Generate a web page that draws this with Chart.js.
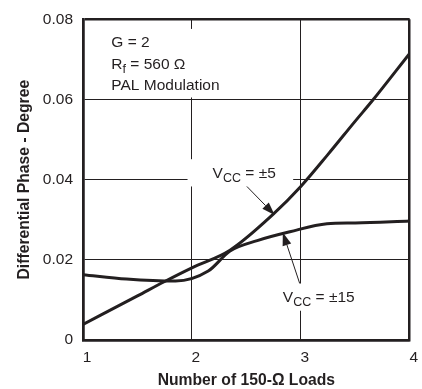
<!DOCTYPE html>
<html>
<head>
<meta charset="utf-8">
<script src="https://cdn.jsdelivr.net/npm/chart.js@4/dist/chart.umd.min.js"></script>
<style>
  html, body { margin: 0; padding: 0; background: #fff; }
  #wrap { width: 422px; height: 389px; }
</style>
</head>
<body>
<div id="wrap"><canvas id="myChart"></canvas></div>
<script>
// data
const loads5 = [1, 1.5, 1.75, 2, 2.35, 2.74, 3, 3.25, 3.5, 3.66, 4];
const phase5 = [0.0039, 0.011, 0.0146, 0.018, 0.0224, 0.0312, 0.0383, 0.0463, 0.0546, 0.0598, 0.0715];
const loads15 = [1, 1.4, 1.85, 2.15, 2.35, 2.6, 2.9, 3.24, 3.5, 4];
const phase15 = [0.0163, 0.0152, 0.0147, 0.0172, 0.0222, 0.0248, 0.027, 0.029, 0.0292, 0.0297];
const xTicks = [1, 2, 3, 4];
const yTicks = [0, 0.02, 0.04, 0.06, 0.08];

const ink = '#231f20';
const font = "'Liberation Sans', Arial, sans-serif";

function pts(xs, ys) {
  return xs.map((x, i) => ({ x: x, y: ys[i] }));
}

// text, boxes and arrows placed in data units
const notes = {
  box: [1.03, 0.0776, 2.35, 0.0605],
  lines: [['G = 2', '', 1.26, 0.0730], ['R', 'f', 1.26, 0.0675, ' = 560 \u03a9'], ['PAL Modulation', '', 1.26, 0.0624]],
  v5: { box: [1.96, 0.0451, 2.93, 0.0383], x: 2.19, y: 0.0405, tail: [2.505, 0.0383], tip: [2.76, 0.0312], text: ' = \u00b15' },
  v15: { box: [2.76, 0.0141, 3.6, 0.0073], x: 2.835, y: 0.0096, tail: [2.99, 0.0141], tip: [2.835, 0.0268], text: ' = \u00b115' }
};

function subText(c, main, sub, rest, px, py) {
  c.font = '15.5px ' + font;
  c.fillText(main, px, py);
  let w = c.measureText(main).width;
  if (sub) {
    c.font = '12.5px ' + font;
    c.fillText(sub, px + w, py + 4);
    w += c.measureText(sub).width;
  }
  if (rest) {
    c.font = '15.5px ' + font;
    c.fillText(rest, px + w, py);
  }
}

function arrow(c, x0, y0, x1, y1) {
  const a = Math.atan2(y1 - y0, x1 - x0);
  const len = 13, half = 4.5;
  c.beginPath();
  c.moveTo(x0, y0);
  c.lineTo(x1 - len * Math.cos(a), y1 - len * Math.sin(a));
  c.lineWidth = 1;
  c.stroke();
  c.beginPath();
  c.moveTo(x1, y1);
  c.lineTo(x1 - len * Math.cos(a) + half * Math.sin(a), y1 - len * Math.sin(a) - half * Math.cos(a));
  c.lineTo(x1 - len * Math.cos(a) - half * Math.sin(a), y1 - len * Math.sin(a) + half * Math.cos(a));
  c.closePath();
  c.fill();
}

const notePlugin = {
  id: 'notes',
  beforeDatasetsDraw(chart) {
    const c = chart.ctx, X = chart.scales.x, Y = chart.scales.y;
    const px = v => X.getPixelForValue(v), py = v => Y.getPixelForValue(v);
    c.save();
    c.fillStyle = '#fff';
    [notes.box, notes.v5.box, notes.v15.box].forEach(b => {
      c.fillRect(px(b[0]), py(b[1]), px(b[2]) - px(b[0]), py(b[3]) - py(b[1]));
    });
    c.fillStyle = ink;
    c.textBaseline = 'alphabetic';
    c.textAlign = 'left';
    notes.lines.forEach(l => subText(c, l[0], l[1], l[4], px(l[2]), py(l[3])));
    [notes.v5, notes.v15].forEach(n => subText(c, 'V', 'CC', n.text, px(n.x), py(n.y)));
    c.restore();
  },
  afterDatasetsDraw(chart) {
    const c = chart.ctx, X = chart.scales.x, Y = chart.scales.y;
    c.save();
    c.fillStyle = ink;
    c.strokeStyle = ink;
    [notes.v5, notes.v15].forEach(n => {
      arrow(c, X.getPixelForValue(n.tail[0]), Y.getPixelForValue(n.tail[1]),
        X.getPixelForValue(n.tip[0]), Y.getPixelForValue(n.tip[1]));
    });
    c.restore();
  }
};

const edge = (v, a, b) => Math.abs(v - a) < 1e-9 || Math.abs(v - b) < 1e-9;

const config = {
  type: 'line',
  data: {
    datasets: [{
      label: 'VCC = ±5',
      data: pts(loads5, phase5),
      borderColor: ink,
      borderWidth: 3,
      pointRadius: 0,
      cubicInterpolationMode: 'monotone'
    }, {
      label: 'VCC = ±15',
      data: pts(loads15, phase15),
      borderColor: ink,
      borderWidth: 3,
      pointRadius: 0,
      cubicInterpolationMode: 'monotone'
    }]
  },
  options: {
    responsive: true,
    maintainAspectRatio: false,
    animation: false,
    layout: { padding: { top: 13, right: 12, left: 0, bottom: 0 } },
    plugins: { legend: { display: false }, tooltip: { enabled: false } },
    scales: {
      x: {
        type: 'linear',
        min: 1, max: 4,
        afterBuildTicks: s => { s.ticks = xTicks.map(v => ({ value: v })); },
        afterFit: s => { s.height = 49; },
        ticks: { color: ink, font: { family: font, size: 15.5 }, padding: 8, labelOffset: 4, maxRotation: 0 },
        grid: {
          color: ink,
          lineWidth: c => edge(c.tick.value, 1, 4) ? 2.5 : 1,
          drawTicks: false
        },
        border: { color: ink, width: 2.5 },
        title: { display: true, text: 'Number of 150-\u03a9 Loads', color: ink, font: { family: font, size: 15.7, weight: 'bold', lineHeight: 1 }, padding: { top: 4, bottom: 0 } }
      },
      y: {
        min: 0, max: 0.08,
        afterBuildTicks: s => { s.ticks = yTicks.map(v => ({ value: v })); },
        afterFit: s => { s.width = 83; },
        ticks: { color: ink, font: { family: font, size: 15.5 }, padding: 10, callback: v => v === 0 ? '0' : v.toFixed(2) },
        grid: {
          color: ink,
          lineWidth: c => edge(c.tick.value, 0, 0.08) ? 2.5 : 1,
          drawTicks: false
        },
        border: { color: ink, width: 2.5 },
        title: { display: true, text: 'Differential Phase - Degree', color: ink, font: { family: font, size: 15.7, weight: 'bold' }, padding: { top: 15, bottom: 0 } }
      }
    }
  },
  plugins: [notePlugin]
};

const myChart = new Chart(document.getElementById('myChart'), config);
</script>
</body>
</html>
